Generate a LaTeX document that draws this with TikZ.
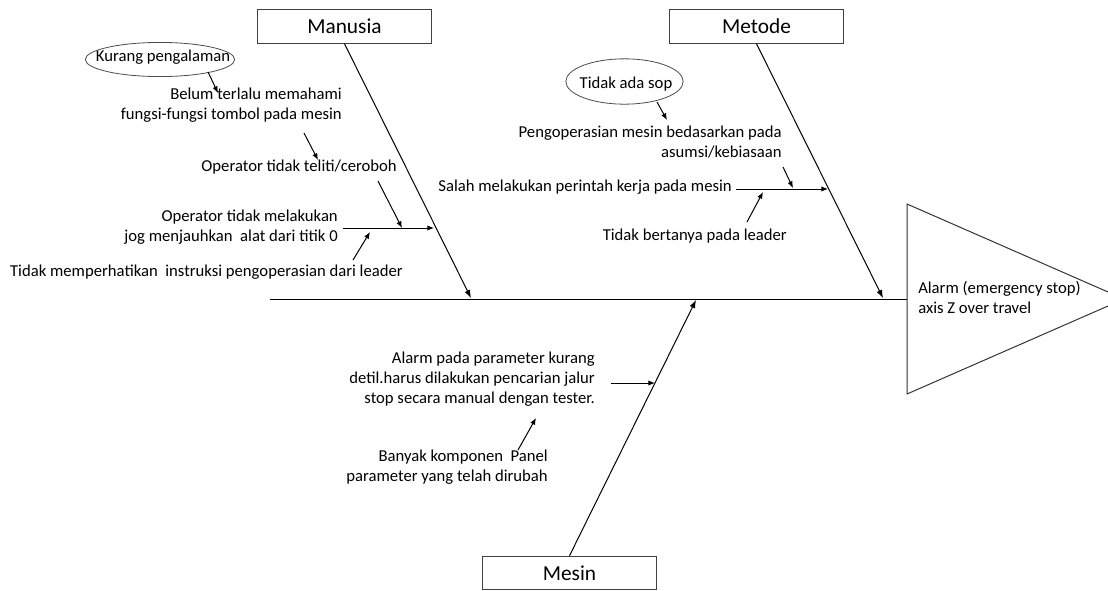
\documentclass[tikz,border=0pt]{standalone}
\usepackage{fontspec}
\setmainfont{Carlito}
\usetikzlibrary{arrows.meta,shapes.geometric}

\tikzset{
    txt/.style={inner sep=0pt, align=right, anchor=east, font=\fontsize{12.5}{15}\selectfont},
    kat/.style={draw=black!75, line width=0.9pt, minimum width=131pt, minimum height=25pt,
        font=\fontsize{16}{19}\selectfont},
    akar/.style={inner sep=0pt, font=\fontsize{12.5}{15}\selectfont},
    lingkar/.style={draw=black!70, line width=0.6pt},
    tulang/.style={line width=0.75pt, -{Latex[length=6pt,width=4.5pt]}},
    panah/.style={line width=0.75pt, -{Latex[length=5pt,width=4pt]}}
}

\begin{document}
\begin{tikzpicture}[x=0.75pt,y=-0.75pt]
    \useasboundingbox (0,0) rectangle (1108,590);
    \clip (0,0) rectangle (1108,590);

    % kepala ikan
    \draw[black!80, line width=0.75pt] (907,204) -- (1124,299) -- (907,394) -- cycle;
    \node[txt, anchor=west, align=left] (akibat) at (918,297)
        {Alarm (emergency stop)\\axis Z over travel};
    \coordinate (kepala) at (907,299);
    \coordinate (ekor) at (270,299);
    \draw[line width=0.75pt] (ekor) -- (kepala);

    % kategori
    \node[kat] (manusia) at (344.5,26.5) {Manusia};
    \node[kat] (metode) at (756.5,26.5) {Metode};
    \node[kat] (mesin) at (569.5,573) {Mesin};

    \coordinate (t1) at (471,298);
    \coordinate (t2) at (883,298);
    \coordinate (t3) at (696,300);
    \draw[tulang] (manusia.south) -- (t1);
    \draw[tulang] (metode.south) -- (t2);
    \draw[tulang] (mesin.north) -- (t3);

    % manusia
    \node[akar] (kurang) at (163,57) {Kurang pengalaman};
    \draw[lingkar] (160,59.5) ellipse [x radius=56pt, y radius=12.8pt];
    \node[txt] (belum) at (342,105) {Belum terlalu memahami\\fungsi-fungsi tombol pada mesin};
    \node[txt] (teliti) at (397,167) {Operator tidak teliti/ceroboh};
    \node[txt] (jog) at (338,227) {Operator tidak melakukan\\jog menjauhkan\ \ alat dari titik 0};
    \node[txt] (instruksi) at (403,272) {Tidak memperhatikan\ \ instruksi pengoperasian dari leader};

    \coordinate (s1a) at (343,228);
    \coordinate (s1b) at (434,228);
    \draw[panah] (s1a) -- (s1b);
    \draw[panah] (208,72) -- (218,93);
    \draw[panah] (304,133) -- (318,160);
    \draw[panah] (378,181) -- (402,228);
    \draw[panah] (353,260) -- (370,232);

    % metode
    \node[akar] (sop) at (626,84) {Tidak ada sop};
    \draw[lingkar] (624.5,81.5) ellipse [x radius=44pt, y radius=17pt];
    \node[txt] (asumsi) at (782,142) {Pengoperasian mesin bedasarkan pada\\asumsi/kebiasaan};
    \node[txt] (salah) at (732,187) {Salah melakukan perintah kerja pada mesin};
    \node[txt] (bertanya) at (787,236) {Tidak bertanya pada leader};

    \coordinate (s2b) at (828,189);
    \draw[panah] ([xshift=3pt]salah.east |- s2b) -- (s2b);
    \draw[panah] (657,102) -- (667,120);
    \draw[panah] (783,167) -- (793,188);
    \draw[panah] (747,222) -- (763,192);

    % mesin
    \node[txt] (detil) at (595,379)
        {Alarm pada parameter kurang\\detil.harus dilakukan pencarian jalur\\stop secara manual dengan tester.};
    \node[txt] (panel) at (548,467) {Banyak komponen\ \ Panel\\parameter\ yang telah dirubah};

    \coordinate (s3a) at (611,383);
    \coordinate (s3b) at (655,383);
    \draw[panah] (s3a) -- (s3b);
    \draw[panah] (518,450) -- (536,418);

\end{tikzpicture}
\end{document}
